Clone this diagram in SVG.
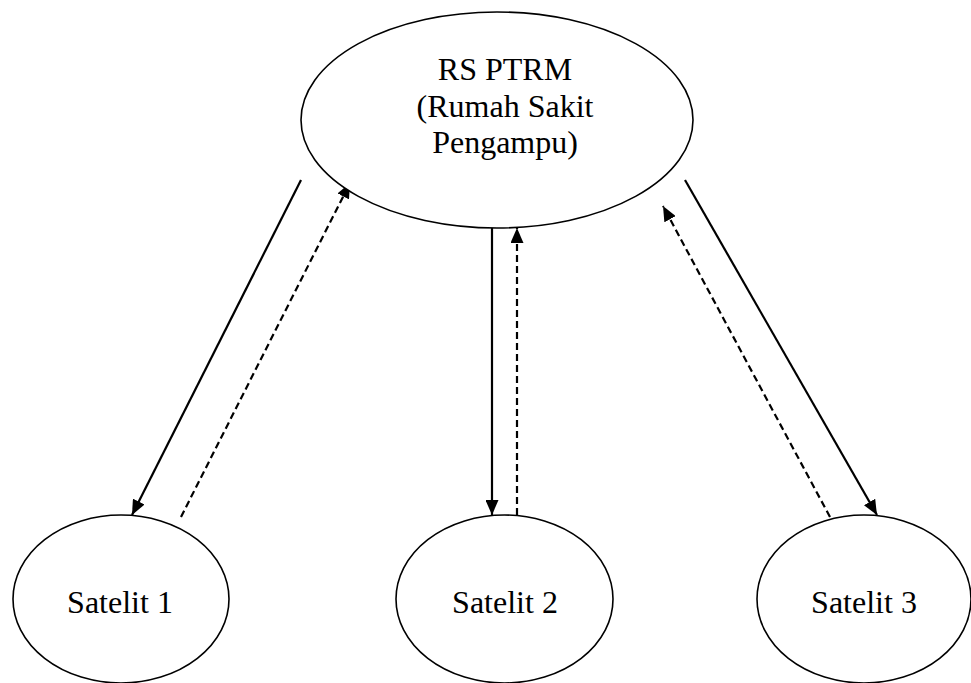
<svg xmlns="http://www.w3.org/2000/svg" width="971" height="683" viewBox="0 0 971 683">
<style>
.node ellipse{fill:#fff;stroke:#000;stroke-width:1.6}
.lbl{font-family:"Liberation Serif","Times New Roman",serif;font-size:32px;fill:#000;text-anchor:middle}
.c{stroke:#000;stroke-width:2.2;fill:none;marker-end:url(#ah)}
.d{stroke-dasharray:7 4}
</style>
<defs>
<marker id="ah" markerUnits="userSpaceOnUse" markerWidth="15" markerHeight="13" viewBox="0 0 15 13" refX="15" refY="6.5" orient="auto">
<path d="M0,0 L15,6.5 L0,13 Z" fill="#000"/>
</marker>
</defs>
<rect width="971" height="683" fill="#fff"/>
<g id="connectors">
<line class="c" x1="301" y1="180" x2="132" y2="515"/>
<line class="c d" x1="181" y1="517" x2="350" y2="183"/>
<line class="c" x1="492" y1="228" x2="492" y2="515"/>
<line class="c d" x1="517" y1="515" x2="517" y2="228"/>
<line class="c" x1="685" y1="180" x2="877" y2="515"/>
<line class="c d" x1="830" y1="517" x2="663" y2="206"/>
</g>
<g id="rs-ptrm" class="node">
<ellipse cx="497" cy="120" rx="196" ry="108"/>
<text class="lbl" x="505" y="80">RS PTRM</text>
<text class="lbl" x="505" y="117">(Rumah Sakit</text>
<text class="lbl" x="505" y="153">Pengampu)</text>
</g>
<g id="satelit-1" class="node">
<ellipse cx="121" cy="599" rx="108" ry="84"/>
<text class="lbl" x="120" y="613">Satelit 1</text>
</g>
<g id="satelit-2" class="node">
<ellipse cx="504.5" cy="599" rx="108.5" ry="84"/>
<text class="lbl" x="505" y="613">Satelit 2</text>
</g>
<g id="satelit-3" class="node">
<ellipse cx="864" cy="599" rx="107" ry="84"/>
<text class="lbl" x="864" y="613">Satelit 3</text>
</g>
</svg>
